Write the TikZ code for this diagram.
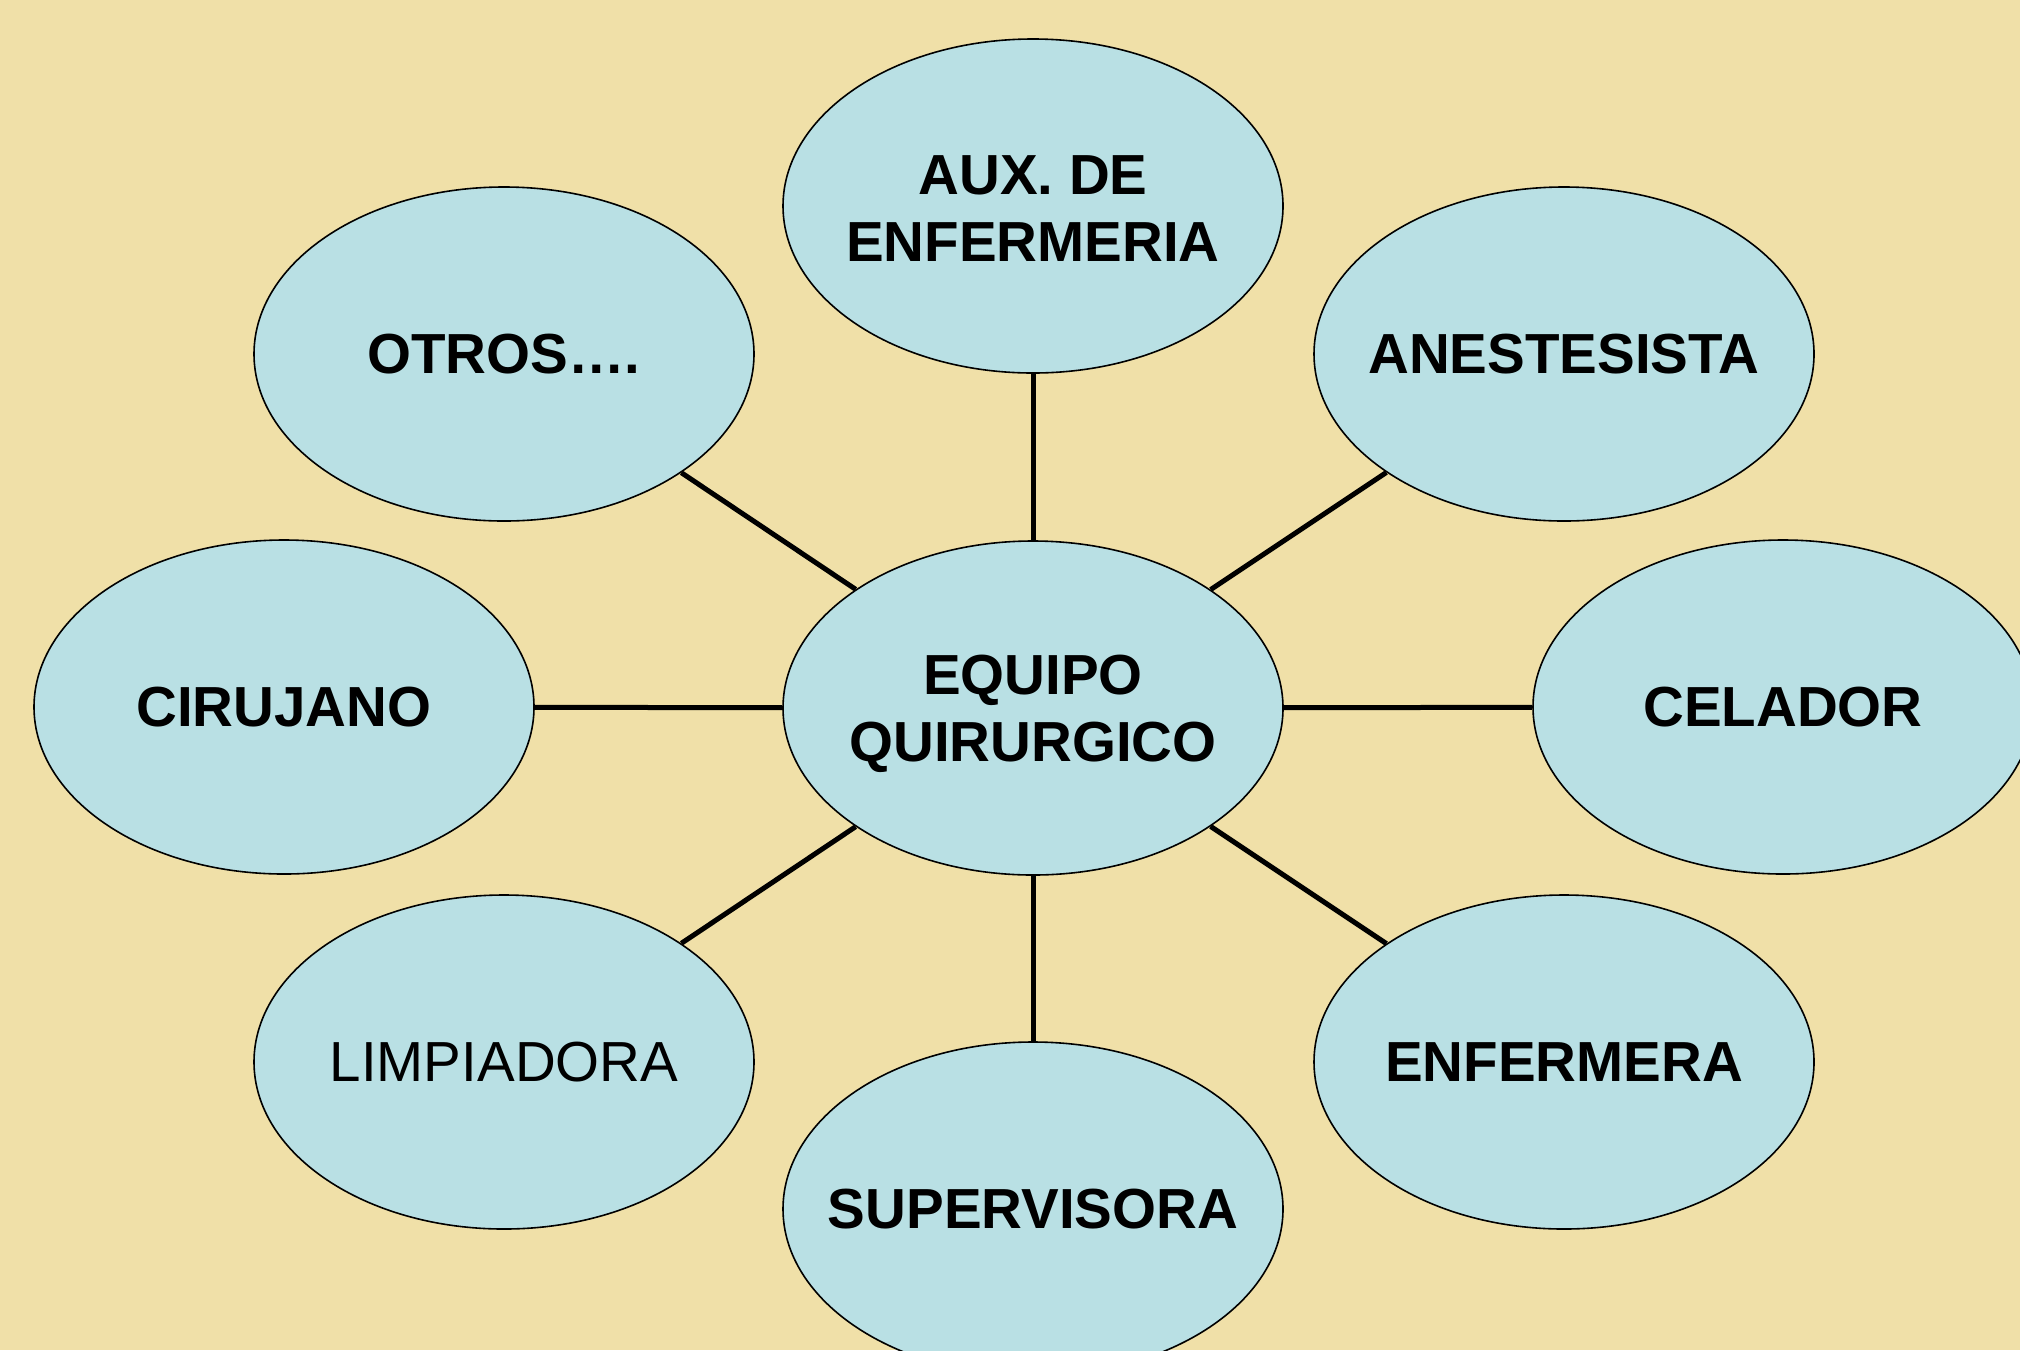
\documentclass[tikz,border=0pt]{standalone}
\usepackage{fontspec}
\setmainfont{Liberation Sans}
\usetikzlibrary{shapes.geometric}
\definecolor{bgtan}{RGB}{240,224,168}
\definecolor{ellfill}{RGB}{185,224,228}
\tikzset{
  ellip/.style={ellipse, draw=black, line width=1.6pt, fill=ellfill, minimum width=500pt, minimum height=334pt, inner sep=0pt},
  txt/.style={align=center, font=\fontsize{56.5}{67}\selectfont\bfseries},
  txtreg/.style={align=center, font=\fontsize{56.5}{67}\selectfont},
  conn/.style={line width=5pt, draw=black}
}
\begin{document}
\begin{tikzpicture}[x=1pt,y=-1pt]
\useasboundingbox (0,0) rectangle (2020,1350);
\clip (0,0) rectangle (2020,1350);
\fill[bgtan] (0,0) rectangle (2020,1350);
\node[ellip] (c) at (1033,708) {};
\node[ellip] (aux) at (1033,206) {};
\node[ellip] (otros) at (504,354) {};
\node[ellip] (anest) at (1564,354) {};
\node[ellip] (ciru) at (284,707) {};
\node[ellip] (cela) at (1783,707) {};
\node[ellip] (limp) at (504,1062) {};
\node[ellip] (enf) at (1564,1062) {};
\node[ellip] (sup) at (1033,1209) {};
\foreach \n in {aux,otros,anest,ciru,cela,limp,enf,sup}{
  \draw[conn] (c) -- (\n);
}
\node[txt] (tc) at ([yshift=-6pt]c.center) {EQUIPO\\QUIRURGICO};
\node[txt] (taux) at ([yshift=-3pt]aux.center) {AUX. DE\\ENFERMERIA};
\node[txt] (totros) at (otros) {OTROS….};
\node[txt] (tanest) at (anest) {ANESTESISTA};
\node[txt] (tciru) at (ciru) {CIRUJANO};
\node[txt] (tcela) at (cela) {CELADOR};
\node[txtreg] (tlimp) at (limp) {LIMPIADORA};
\node[txt] (tenf) at (enf) {ENFERMERA};
\node[txt] (tsup) at (sup) {SUPERVISORA};
\end{tikzpicture}
\end{document}
